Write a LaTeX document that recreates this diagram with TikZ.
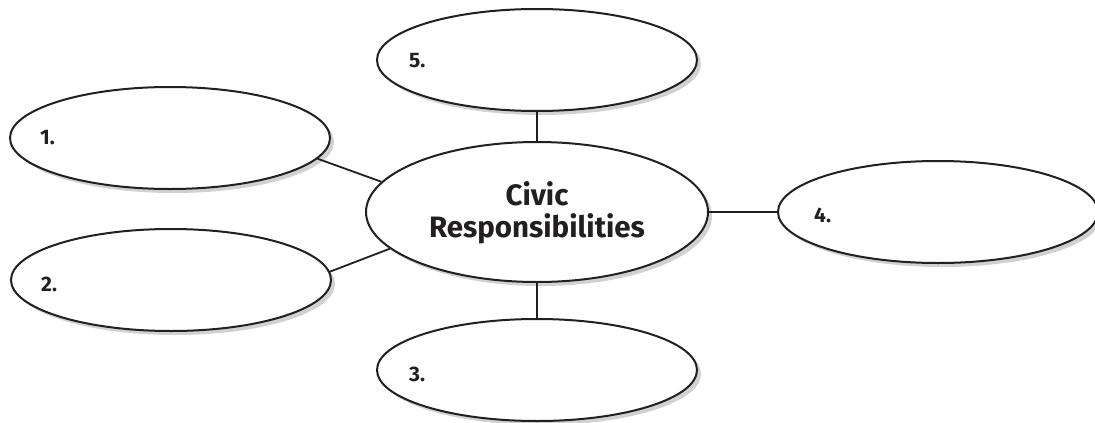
\documentclass[tikz,border=0pt]{standalone}
\usepackage{fontspec}
\setmainfont{Fira Sans}
\usetikzlibrary{shapes.geometric,shadows}
\definecolor{ink}{HTML}{231F20}
\begin{document}
\begin{tikzpicture}[x=1pt,y=-1pt,
  bubble/.style={ellipse,draw=ink,line width=2pt,fill=white,inner sep=0pt,
    minimum width=320pt,minimum height=102pt,
    drop shadow={fill=black!18,opacity=1,shadow xshift=4pt,shadow yshift=-4pt}},
  hub/.style={bubble,minimum width=342pt,minimum height=140pt},
  num/.style={anchor=west,inner sep=0pt,text=ink,font=\fontsize{21}{21}\selectfont\bfseries},
  link/.style={draw=ink,line width=1.8pt}]
\useasboundingbox (0,0) rectangle (1095,423);
% satellite bubbles
\node[bubble] (b1) at (170,138) {};
\node[bubble] (b2) at (171,280) {};
\node[bubble] (b3) at (537,370) {};
\node[bubble] (b4) at (938,212) {};
\node[bubble] (b5) at (537,60) {};
% central bubble
\node[hub] (c) at (537,212) {};
\node[text=ink,align=center,inner sep=0pt,font=\fontsize{29.5}{32}\selectfont\bfseries] (ct) at (537,213) {Civic\\Responsibilities};
% numbers
\node[num] (n1) at (40,138) {1.};
\node[num] (n2) at (41,284) {2.};
\node[num] (n3) at (409,374) {3.};
\node[num] (n4) at (814,215) {4.};
\node[num] (n5) at (409,61) {5.};
% connectors
\draw[link] (b1.-8) -- (c.169);
\draw[link] (b2.3) -- (c.194);
\draw[link] (b3.north) -- (c.south);
\draw[link] (b4.west) -- (c.east);
\draw[link] (b5.south) -- (c.north);
\end{tikzpicture}
\end{document}
